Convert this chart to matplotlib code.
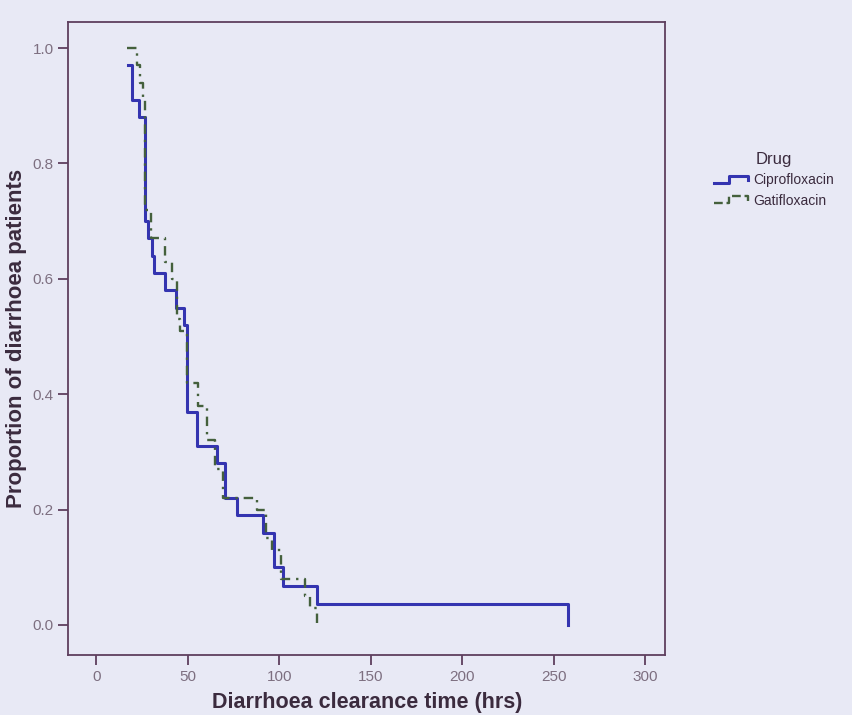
import matplotlib
matplotlib.use("Agg")
import matplotlib.pyplot as plt
from matplotlib.legend_handler import HandlerBase
from matplotlib.lines import Line2D

# Kaplan-Meier steps (time in hrs, proportion after the step)
cipro_t = [17.5, 19.7, 23.5, 26.8, 28.5, 30.6, 31.7, 37.8, 43.8, 48.2, 49.8,
           55.3, 66, 70.6, 77, 91, 97, 102, 120.4, 258]
cipro_s = [0.97, 0.91, 0.88, 0.70, 0.67, 0.64, 0.61, 0.58, 0.55, 0.52, 0.37,
           0.31, 0.28, 0.22, 0.19, 0.16, 0.10, 0.068, 0.036, 0.0]

gati_t = [17, 22.5, 24, 25.5, 26.5, 30, 37.8, 41.6, 44.3, 46, 49.8, 55.8,
          60.8, 65, 69, 88, 92.5, 96, 101, 114, 117, 120.4]
gati_s = [1.0, 0.97, 0.94, 0.91, 0.72, 0.67, 0.63, 0.60, 0.53, 0.51, 0.42, 0.38,
          0.32, 0.27, 0.22, 0.20, 0.15, 0.13, 0.08, 0.05, 0.03, 0.0]

x_ticks = [0, 50, 100, 150, 200, 250, 300]
y_ticks = [0.0, 0.2, 0.4, 0.6, 0.8, 1.0]

bg = "#e8e9f5"
frame_col = "#5e3f5e"
tick_col = "#7d6f80"
label_col = "#3b2b3e"
blue = "#3434b0"
green = "#44603c"

plt.rcParams["font.family"] = ["Liberation Sans", "DejaVu Sans"]


class StepHandler(HandlerBase):
    # legend key drawn as a small step, like the SPSS legend
    def create_artists(self, legend, orig_handle, xdescent, ydescent,
                       width, height, fontsize, trans):
        w, h = width, height
        xs = [-xdescent, 0.45 * w, 0.45 * w, 0.97 * w, 0.97 * w]
        ys = [0.15 * h, 0.15 * h, 0.85 * h, 0.85 * h, 0.4 * h]
        ln = Line2D(xs, ys, color=orig_handle.get_color(),
                    linestyle=orig_handle.get_linestyle(),
                    linewidth=orig_handle.get_linewidth(), transform=trans)
        return [ln]


fig = plt.figure(figsize=(8.53, 7.15), dpi=100, facecolor=bg)
ax = fig.add_axes([0.08, 0.084, 0.70, 0.885], facecolor=bg)

l1, = ax.step(cipro_t, cipro_s, where="post", color=blue, lw=2.2,
              label="Ciprofloxacin")
l2, = ax.step(gati_t, gati_s, where="post", color=green, lw=1.7,
              linestyle=(0, (4, 2.5, 1, 2.5)), label="Gatifloxacin")

ax.set_xlim(-15.3, 311)
ax.set_ylim(-0.052, 1.045)
ax.set_xticks(x_ticks)
ax.set_yticks(y_ticks)
ax.set_yticklabels([f"{v:.1f}" for v in y_ticks])

for sp in ax.spines.values():
    sp.set_color(frame_col)
    sp.set_linewidth(1.3)
ax.tick_params(direction="out", length=7, width=1.3, color=frame_col,
               labelcolor=tick_col, labelsize=11)

ax.set_xlabel("Diarrhoea clearance time (hrs)", fontsize=15.5,
              fontweight="bold", color=label_col, labelpad=6)
ax.set_ylabel("Proportion of diarrhoea patients", fontsize=16,
              fontweight="bold", color=label_col, labelpad=4)

leg = ax.legend(handles=[l1, l2], title="Drug", loc="upper left",
                bbox_to_anchor=(1.065, 0.81), frameon=False,
                handler_map={Line2D: StepHandler()}, fontsize=10,
                title_fontsize=12, handlelength=2.5, handletextpad=0.35,
                labelspacing=0.45, borderpad=0.2)
for t in leg.get_texts():
    t.set_color(label_col)
leg.get_title().set_color(label_col)

fig.savefig("out.png", dpi=100, facecolor=bg)
